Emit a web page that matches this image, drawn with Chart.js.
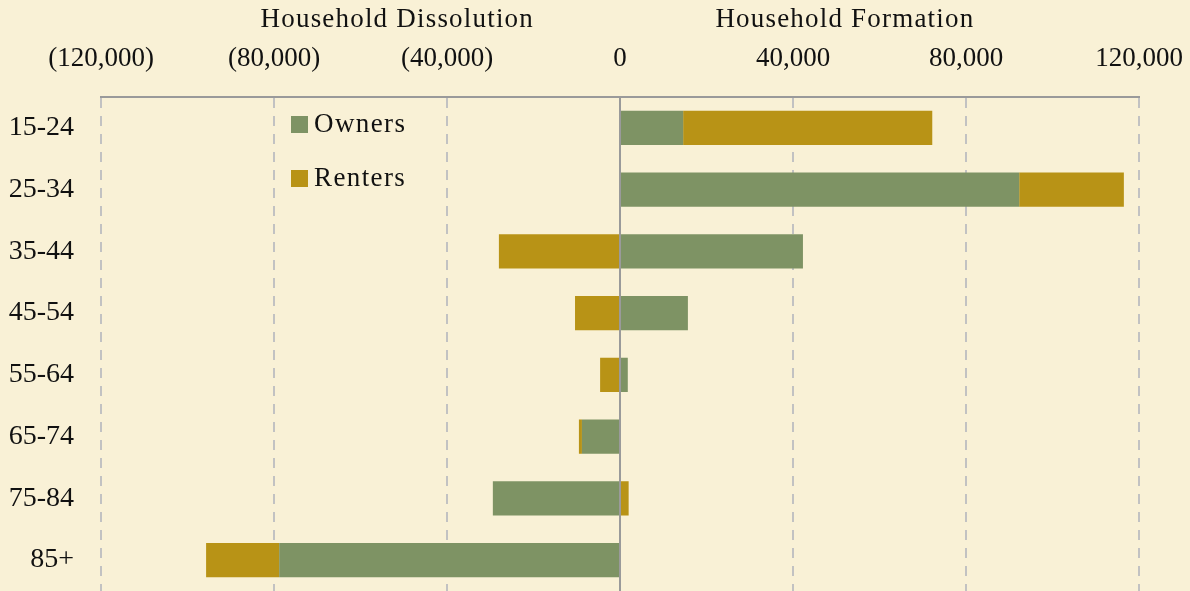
<!DOCTYPE html>
<html>
<head>
<meta charset="utf-8">
<script src="https://cdn.jsdelivr.net/npm/chart.js@4/dist/chart.umd.min.js"></script>
<style>
  html, body { margin: 0; padding: 0; background: #f9f1d6; }
  #wrap { width: 1190px; height: 591px; position: relative; }
</style>
</head>
<body>
<div id="wrap"><canvas id="hhChart"></canvas></div>
<script>
// age groups (rows, top to bottom)
const ageGroups = ['15-24', '25-34', '35-44', '45-54', '55-64', '65-74', '75-84', '85+'];

// household change by tenure, negative = dissolution
const owners  = [14600, 92300, 42300, 15700, 1800, -8800, -29400, -78800];
const renters = [57600, 24200, -28000, -10400, -4600, -700, 2000, -16900];

// x axis ticks and the two side headings
const tickValues = [-120000, -80000, -40000, 0, 40000, 80000, 120000];
const sideTitles = [
  { text: 'Household Dissolution', at: -51500 },
  { text: 'Household Formation', at: 52000 },
];

const FONT = '"Liberation Serif", "DejaVu Serif", serif';
const fmt = v => {
  const s = Math.abs(v).toLocaleString('en-US');
  return v < 0 ? '(' + s + ')' : s;
};

// headings above the ticks, zero line over the bars, legend inside the plot
const extras = {
  id: 'extras',
  afterDatasetsDraw(chart) {
    const { ctx, chartArea, scales: { x } } = chart;
    const zx = Math.round(x.getPixelForValue(0));
    ctx.save();
    ctx.strokeStyle = '#9a9a9a';
    ctx.lineWidth = 2;
    ctx.beginPath();
    ctx.moveTo(zx, chartArea.top);
    ctx.lineTo(zx, chartArea.bottom);
    ctx.stroke();
    ctx.restore();
  },
  afterDraw(chart) {
    const { ctx, scales: { x } } = chart;
    ctx.save();
    ctx.font = '27px ' + FONT;
    ctx.fillStyle = '#111';
    ctx.textAlign = 'center';
    ctx.textBaseline = 'middle';
    ctx.letterSpacing = '1.2px';
    sideTitles.forEach(t => ctx.fillText(t.text, x.getPixelForValue(t.at), 20));

    // legend
    ctx.textAlign = 'left';
    ctx.letterSpacing = '1.4px';
    chart.data.datasets.forEach((ds, i) => {
      const cy = 124 + i * 54;
      ctx.fillStyle = ds.backgroundColor;
      ctx.fillRect(291, cy - 8, 17, 17);
      ctx.fillStyle = '#111';
      ctx.fillText(ds.label, 314, cy + 1);
    });
    ctx.restore();
  }
};

new Chart(document.getElementById('hhChart'), {
  type: 'bar',
  data: {
    labels: ageGroups,
    datasets: [
      { label: 'Owners', data: owners, backgroundColor: '#7e9364' },
      { label: 'Renters', data: renters, backgroundColor: '#b89316' },
    ],
  },
  options: {
    indexAxis: 'y',
    responsive: true,
    maintainAspectRatio: false,
    animation: false,
    layout: { padding: { top: 0, right: 51, bottom: 0, left: 0 } },
    datasets: {
      bar: {
        categoryPercentage: 1,
        barPercentage: 0.555,
        borderWidth: 0,
      },
    },
    plugins: {
      legend: { display: false },
      tooltip: { enabled: false },
    },
    scales: {
      x: {
        position: 'top',
        stacked: true,
        min: -120000,
        max: 120000,
        afterBuildTicks: s => { s.ticks = tickValues.map(v => ({ value: v })); },
        afterFit: s => {
          s.height = 97;
          s.paddingLeft = 0;
          s.paddingRight = 0;
        },
        ticks: {
          padding: 22,
          color: '#111',
          font: { family: FONT, size: 27 },
          callback: v => fmt(v),
          maxRotation: 0,
        },
        grid: {
          drawTicks: false,
          lineWidth: 2,
          color: c => (c.tick && c.tick.value === 0 ? 'rgba(0,0,0,0)' : '#c2c2c2'),
        },
        border: { display: true, color: '#9a9a9a', width: 2, dash: [10, 8] },
      },
      y: {
        stacked: true,
        afterFit: s => {
          s.width = 101;
          s.paddingTop = 0;
          s.paddingBottom = 0;
        },
        ticks: {
          padding: 27,
          color: '#111',
          font: { family: FONT, size: 28 },
        },
        grid: { display: false, drawTicks: false },
        border: { display: false },
      },
    },
  },
  plugins: [extras],
});
</script>
</body>
</html>
